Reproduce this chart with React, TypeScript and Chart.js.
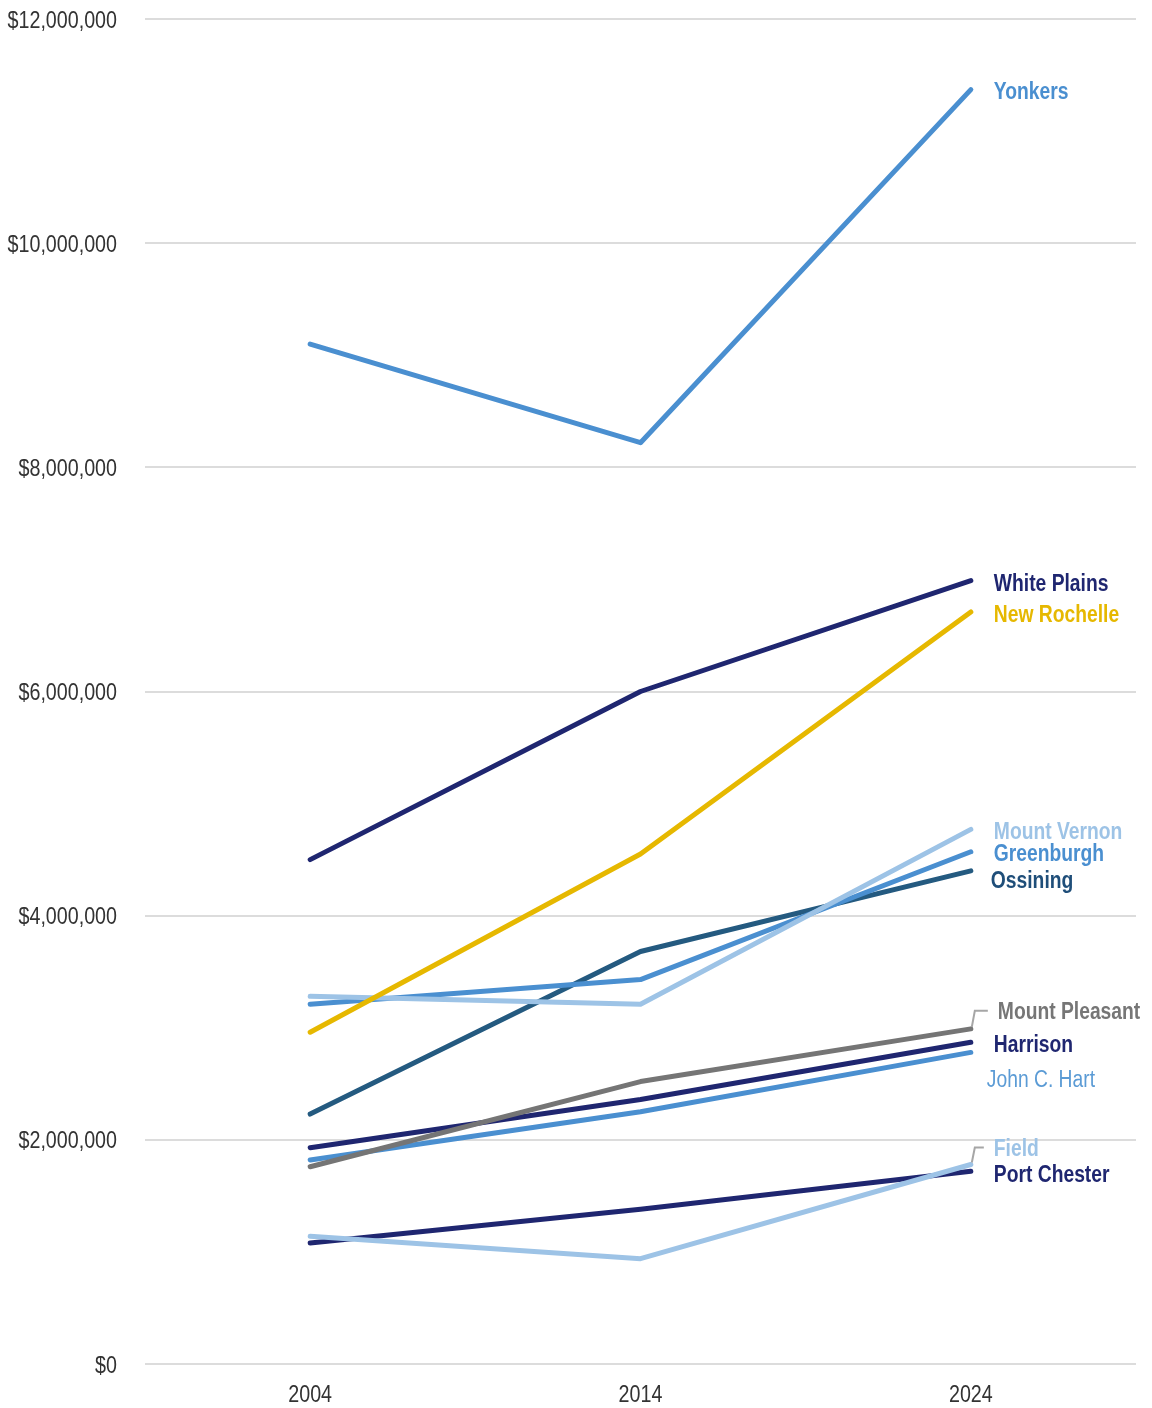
import React, { useEffect, useRef } from "react";
import { Chart, registerables } from "chart.js";

Chart.register(...registerables);

const years = ["2004", "2014", "2024"];

const seriesNames = [
  "Yonkers",
  "White Plains",
  "New Rochelle",
  "Mount Vernon",
  "Greenburgh",
  "Ossining",
  "Mount Pleasant",
  "Harrison",
  "John C. Hart",
  "Field",
  "Port Chester",
];

const yonkers = [9100000, 8220000, 11370000];
const whitePlains = [4500000, 6000000, 6990000];
const newRochelle = [2960000, 4550000, 6710000];
const mountVernon = [3280000, 3210000, 4770000];
const greenburgh = [3210000, 3430000, 4570000];
const ossining = [2230000, 3680000, 4400000];
const mountPleasant = [1760000, 2520000, 2990000];
const harrison = [1930000, 2360000, 2870000];
const johnCHart = [1820000, 2250000, 2780000];
const field = [1140000, 940000, 1780000];
const portChester = [1080000, 1380000, 1720000];

const seriesValues = [
  yonkers,
  whitePlains,
  newRochelle,
  mountVernon,
  greenburgh,
  ossining,
  mountPleasant,
  harrison,
  johnCHart,
  field,
  portChester,
];

const lineColors = [
  "#4a8fd0",
  "#1f2670",
  "#e6b800",
  "#9dc3e6",
  "#4a8fd0",
  "#245a80",
  "#757575",
  "#1f2670",
  "#4a8fd0",
  "#9dc3e6",
  "#1f2670",
];

const labelColors = [
  "#4a8fd0",
  "#1f2670",
  "#e6b800",
  "#9dc3e6",
  "#4a8fd0",
  "#1f4e79",
  "#767676",
  "#1f2670",
  "#5b9bd5",
  "#9dc3e6",
  "#1f2670",
];

const labelBold = [true, true, true, true, true, true, true, true, false, true, true];
// pixel offsets of each end label relative to the last point
const labelDx = [23, 23, 23, 23, 23, 20, 27, 23, 16, 23, 23];
const labelDy = [3, 4, 4, 3, 3, 11, -16, 3, 28, -15, 4];
const leaderLine = [false, false, false, false, false, false, true, false, false, true, false];

const yTicks = [0, 2000000, 4000000, 6000000, 8000000, 10000000, 12000000];

const FONT = "'Liberation Sans', Arial, sans-serif";
const NARROW = 0.82;

function narrowText(
  ctx: CanvasRenderingContext2D,
  text: string,
  x: number,
  y: number,
  align: CanvasTextAlign,
  font: string,
  color: string
) {
  ctx.save();
  ctx.translate(x, y);
  ctx.scale(NARROW, 1);
  ctx.font = font;
  ctx.fillStyle = color;
  ctx.textAlign = align;
  ctx.textBaseline = "middle";
  ctx.fillText(text, 0, 0);
  ctx.restore();
}

const fmtMoney = (v: number) => "$" + Number(v).toLocaleString("en-US");

const axisText = {
  id: "axisText",
  afterDraw(chart: any) {
    const ctx = chart.ctx;
    const ys = chart.scales.y;
    const xs = chart.scales.x;
    ys.ticks.forEach((t: any) => {
      const py = ys.getPixelForValue(t.value);
      narrowText(ctx, fmtMoney(t.value), ys.right - 28, py + 2, "right", `24px ${FONT}`, "#333333");
    });
    chart.data.labels.forEach((lab: string, i: number) => {
      const px = xs.getPixelForTick(i);
      narrowText(ctx, lab, px, xs.top + 31, "center", `24px ${FONT}`, "#333333");
    });
  },
};

const endLabels = {
  id: "endLabels",
  afterDatasetsDraw(chart: any) {
    const ctx = chart.ctx;
    chart.data.datasets.forEach((ds: any, i: number) => {
      const meta = chart.getDatasetMeta(i);
      const pt = meta.data[meta.data.length - 1];
      if (!pt) return;
      const x = pt.x;
      const y = pt.y;
      const tx = x + labelDx[i];
      const ty = y + labelDy[i];
      if (leaderLine[i]) {
        ctx.save();
        ctx.strokeStyle = "#a6a6a6";
        ctx.lineWidth = 2;
        ctx.beginPath();
        ctx.moveTo(x + 1, y - 2);
        ctx.lineTo(x + 4, ty - 2);
        ctx.lineTo(tx - 10, ty - 2);
        ctx.stroke();
        ctx.restore();
      }
      narrowText(
        ctx,
        ds.label,
        tx,
        ty,
        "left",
        `${labelBold[i] ? "bold " : ""}23.5px ${FONT}`,
        labelColors[i]
      );
    });
  },
};

export default function App() {
  const ref = useRef<HTMLCanvasElement | null>(null);

  useEffect(() => {
    if (!ref.current) return;
    const chart = new Chart(ref.current, {
      type: "line",
      data: {
        labels: years,
        datasets: seriesNames.map((name, i) => ({
          label: name,
          data: seriesValues[i],
          borderColor: lineColors[i],
          backgroundColor: lineColors[i],
          borderWidth: 5,
          borderCapStyle: "round" as const,
          borderJoinStyle: "round" as const,
          pointRadius: 0,
          pointHoverRadius: 0,
          tension: 0,
          fill: false,
        })),
      },
      options: {
        animation: false,
        responsive: true,
        maintainAspectRatio: false,
        layout: { padding: { top: 19, right: 16, bottom: 0, left: 0 } },
        plugins: {
          legend: { display: false },
          tooltip: { enabled: false },
        },
        scales: {
          x: {
            type: "category",
            offset: true,
            grid: { display: false },
            border: { display: false },
            ticks: { display: false },
            afterFit(scale: any) {
              scale.height = 44;
            },
          },
          y: {
            min: 0,
            max: 12000000,
            afterBuildTicks(scale: any) {
              scale.ticks = yTicks.map((v) => ({ value: v }));
            },
            grid: { color: "#dcdcdc", lineWidth: 2, drawTicks: false },
            border: { display: false },
            ticks: { display: false, callback: (v: any) => fmtMoney(v) },
            afterFit(scale: any) {
              scale.width = 145;
            },
          },
        },
      },
      plugins: [axisText, endLabels],
    });
    return () => chart.destroy();
  }, []);

  return (
    <div style={{ position: "fixed", left: 0, top: 0, width: 1152, height: 1408 }}>
      <canvas ref={ref} />
    </div>
  );
}
